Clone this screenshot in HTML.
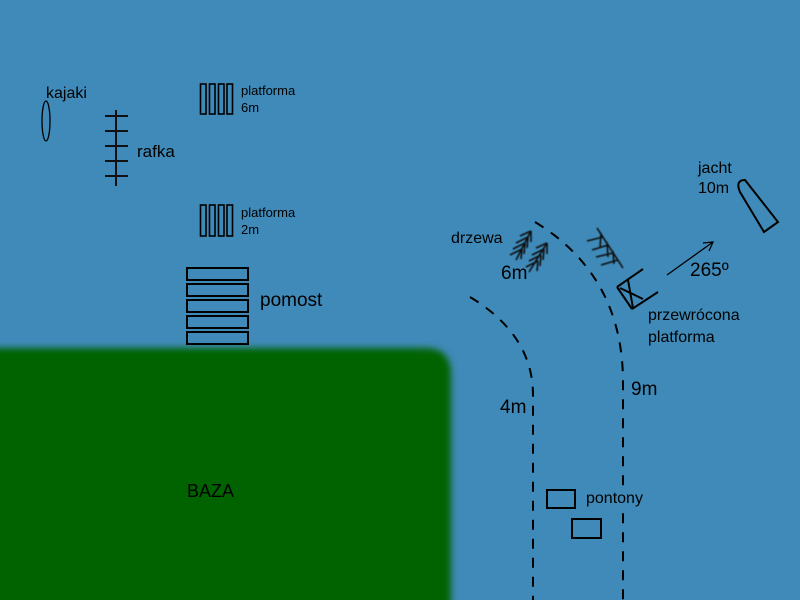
<!DOCTYPE html>
<html><head><meta charset="utf-8"><style>
html,body{margin:0;padding:0;background:#3f8ab8;width:800px;height:600px;overflow:hidden;}
svg{display:block}
text{font-family:"Liberation Sans",sans-serif;fill:#000}
</style></head><body>
<svg width="800" height="600" viewBox="0 0 800 600">
<defs><filter id="b" x="-10%" y="-10%" width="120%" height="120%"><feGaussianBlur stdDeviation="3.5"/></filter>
<filter id="s"><feGaussianBlur stdDeviation="0.5"/></filter></defs>
<rect width="800" height="600" fill="#3f8ab8"/>
<path d="M-20 348 H425 Q451 348 451 374 V640 H-20 Z" fill="#006400" filter="url(#b)"/>
<g fill="none" stroke="#000" stroke-width="2">
<ellipse cx="46" cy="121" rx="4" ry="20" stroke-width="1.3"/>
<g stroke-width="2" stroke="#111">
<line x1="116" y1="110" x2="116" y2="186"/>
<line x1="105" y1="116" x2="128" y2="116"/><line x1="105" y1="131" x2="128" y2="131"/>
<line x1="105" y1="146" x2="128" y2="146"/><line x1="105" y1="161" x2="128" y2="161"/>
<line x1="105" y1="176" x2="128" y2="176"/></g>
<g stroke-width="1.6">
<rect x="200.5" y="84" width="5.5" height="30"/><rect x="209.5" y="84" width="5.5" height="30"/><rect x="218.5" y="84" width="5.5" height="30"/><rect x="227" y="84" width="5.5" height="30"/>
<rect x="200.5" y="205" width="5.5" height="31"/><rect x="209.5" y="205" width="5.5" height="31"/><rect x="218.5" y="205" width="5.5" height="31"/><rect x="227" y="205" width="5.5" height="31"/>
</g>
<rect x="187" y="268" width="61" height="12"/><rect x="187" y="284" width="61" height="12"/><rect x="187" y="300" width="61" height="12"/><rect x="187" y="316" width="61" height="12"/><rect x="187" y="332" width="61" height="12"/>
<path d="M470 297 Q533 335 533 395 V600" stroke-dasharray="10 9"/>
<path d="M535 222 Q622 275 623 380 V600" stroke-dasharray="10 9"/>
<rect x="547" y="490" width="28" height="18"/><rect x="572" y="519" width="29" height="19"/>
<path d="M740 192 Q735 180 745 180 L778 222 L764 232 Z"/>
<line x1="617" y1="287" x2="643" y2="269"/><line x1="617" y1="287" x2="632" y2="309"/>
<line x1="632" y1="309" x2="658" y2="292"/><line x1="628" y1="280" x2="633" y2="308"/><line x1="620" y1="288" x2="643" y2="299"/>
<g stroke-width="1.3"><line x1="667" y1="275" x2="713" y2="242"/><path d="M703 243 L713 242 L709 251"/></g>
<g stroke="#111" stroke-width="1.6" filter="url(#s)">
<path d="M516 260 L531 231 M529 272 L547 243"/>
<path d="M531 231 L520 236 M528 237 L516 243 M525 243 L513 249 M522 249 L510 255 M531 231 L531 242 M528 237 L527 248 M525 243 L524 254 M522 249 L521 259"/>
<path d="M547 243 L536 248 M544 249 L532 255 M541 255 L529 261 M538 261 L526 267 M547 243 L547 254 M544 249 L543 260 M541 255 L540 266 M538 261 L537 271"/>
<path d="M597 228 L623 268 M601 233 L600 248 M607 242 L608 257 M613 251 L614 264 M603 237 L587 241 M608 245 L592 250 M613 253 L596 257 M618 260 L601 265"/>
</g>
</g>
<rect x="616" y="489" width="14" height="16" fill="#3f8ab8"/>
<text x="46" y="98" font-size="16">kajaki</text>
<text x="137" y="157" font-size="17">rafka</text>
<text x="241" y="95" font-size="13">platforma</text><text x="241" y="112" font-size="13">6m</text>
<text x="241" y="217" font-size="13">platforma</text><text x="241" y="234" font-size="13">2m</text>
<text x="260" y="306" font-size="19">pomost</text>
<text x="187" y="497" font-size="18">BAZA</text>
<text x="451" y="243" font-size="16">drzewa</text>
<text x="501" y="279" font-size="19">6m</text>
<text x="698" y="173" font-size="16">jacht</text><text x="698" y="193" font-size="16">10m</text>
<text x="690" y="276" font-size="19">265º</text>
<text x="648" y="320" font-size="16">przewrócona</text><text x="648" y="342" font-size="16">platforma</text>
<text x="631" y="395" font-size="19">9m</text>
<text x="500" y="413" font-size="19">4m</text>
<text x="586" y="503" font-size="16">pontony</text>
</svg>
</body></html>
